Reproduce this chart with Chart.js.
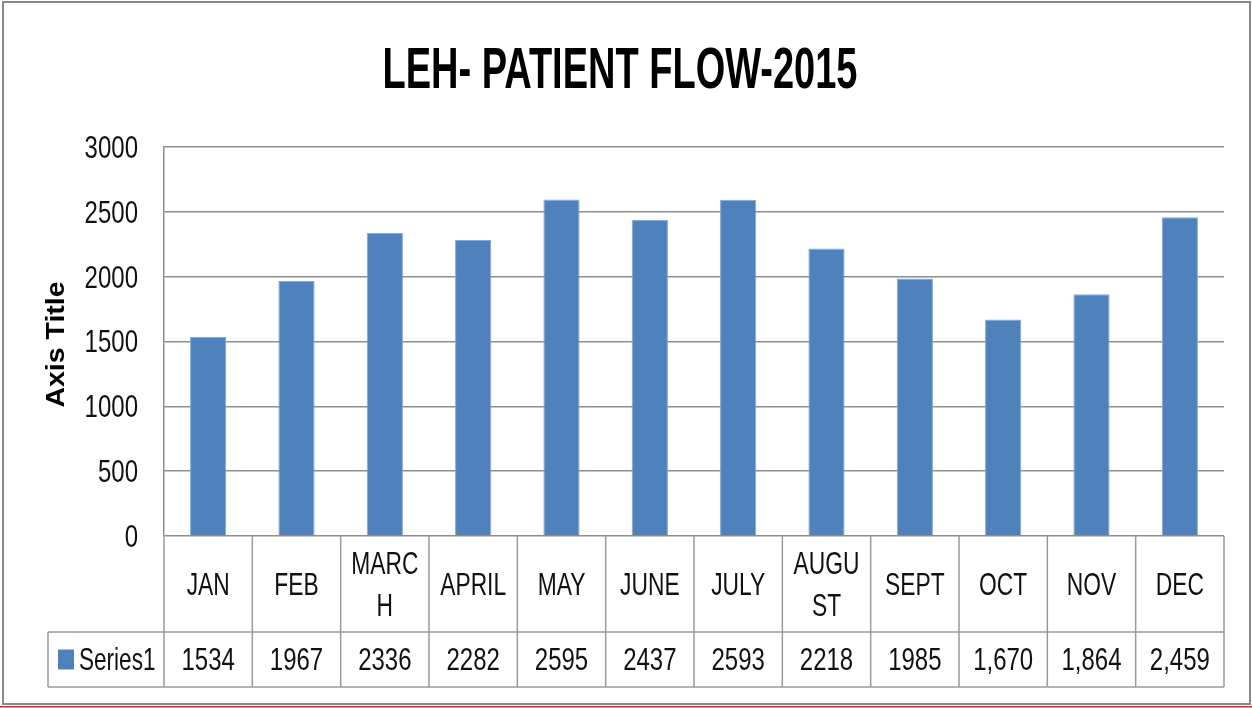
<!DOCTYPE html>
<html>
<head>
<meta charset="utf-8">
<script src="https://cdn.jsdelivr.net/npm/chart.js@4.4.1/dist/chart.umd.min.js"></script>
<style>
  html, body { margin: 0; padding: 0; background: #fff; }
  #wrap { width: 1252px; height: 708px; position: relative; }
</style>
</head>
<body>
<div id="wrap"><canvas id="chart" width="1252" height="708"></canvas></div>
<script>
// data
const chartTitle = 'LEH- PATIENT FLOW-2015';
const axisTitle = 'Axis Title';
const seriesName = 'Series1';
const categories = ['JAN', 'FEB', 'MARCH', 'APRIL', 'MAY', 'JUNE', 'JULY', 'AUGUST', 'SEPT', 'OCT', 'NOV', 'DEC'];
const patients = [1534, 1967, 2336, 2282, 2595, 2437, 2593, 2218, 1985, 1670, 1864, 2459];
const tableValues = ['1534', '1967', '2336', '2282', '2595', '2437', '2593', '2218', '1985', '1,670', '1,864', '2,459'];
const yMin = 0;
const yMax = 3000;
const yStep = 500;

const sans = '"Liberation Sans", Arial, sans-serif';
const barBlue = '#4f81bd';
const lineGray = '#8e8e8e';
const textColor = '#111';
const CAP = 0.716; // cap height of Liberation Sans, in em

// the original text is tall and narrow, so stretch it vertically
function stretchedText(ctx, text, x, baseY, sy, sx = 1) {
  ctx.save();
  ctx.translate(x, baseY);
  ctx.scale(sx, sy);
  ctx.fillText(text, 0, 0);
  ctx.restore();
}

// wraps a label by characters, like the excel data table does
function wrapLabel(ctx, text, maxW) {
  const lines = [];
  let cur = '';
  for (const ch of text) {
    if (cur && ctx.measureText(cur + ch).width > maxW) {
      lines.push(cur);
      cur = ch;
    } else {
      cur += ch;
    }
  }
  if (cur) lines.push(cur);
  return lines;
}

const textPlugin = {
  id: 'excelText',
  beforeDraw(chart) {
    const ctx = chart.ctx;
    ctx.save();
    ctx.fillStyle = '#fff';
    ctx.fillRect(0, 0, chart.width, chart.height);
    ctx.strokeStyle = '#8a8a8a';
    ctx.lineWidth = 2;
    ctx.strokeRect(3, 2, chart.width - 5, chart.height - 6);
    ctx.fillStyle = '#e0262a';
    ctx.fillRect(0, chart.height - 2, chart.width, 1.5);
    ctx.restore();
  },
  afterDraw(chart) {
    const ctx = chart.ctx;
    const xs = chart.scales.x;
    const ys = chart.scales.y;
    const area = chart.chartArea;
    const top = xs.top;
    const bottom = xs.bottom;
    const mid = top + 96;
    const legendLeft = 48;
    const colW = xs.width / categories.length;

    ctx.save();
    // chart title
    ctx.fillStyle = '#000';
    ctx.font = 'bold 38px ' + sans;
    ctx.textAlign = 'center';
    ctx.textBaseline = 'alphabetic';
    stretchedText(ctx, chartTitle, 620, 88, 1.5);

    // axis title, rotated
    ctx.font = 'bold 25px ' + sans;
    ctx.save();
    ctx.translate(64, (area.top + area.bottom) / 2 + 3);
    ctx.rotate(-Math.PI / 2);
    ctx.scale(1.14, 1);
    ctx.fillText(axisTitle, 0, 0);
    ctx.restore();

    // y tick labels from the scale
    const size = 24;
    const sy = 1.28;
    const half = size * CAP * sy / 2;
    ctx.font = size + 'px ' + sans;
    ctx.fillStyle = textColor;
    ctx.textAlign = 'right';
    ys.ticks.forEach((t) => {
      stretchedText(ctx, String(t.value), 138, ys.getPixelForValue(t.value) + half, sy);
    });

    // data table grid
    ctx.strokeStyle = '#9a9a9a';
    ctx.lineWidth = 1.5;
    const line = (x1, y1, x2, y2) => {
      ctx.beginPath();
      ctx.moveTo(x1, y1);
      ctx.lineTo(x2, y2);
      ctx.stroke();
    };
    line(legendLeft, mid, xs.right, mid);
    line(legendLeft, bottom, xs.right, bottom);
    line(legendLeft, mid, legendLeft, bottom);
    for (let i = 0; i <= categories.length; i++) {
      const x = xs.left + i * colW;
      line(x, top, x, bottom);
    }

    // data table text
    ctx.textAlign = 'center';
    const lineH = 42;
    const rowY = (mid + bottom) / 2;
    categories.forEach((c, i) => {
      const cx = xs.getPixelForValue(i);
      const lines = wrapLabel(ctx, c, colW - 12);
      const cy = (top + mid) / 2 - (lines.length - 1) * lineH / 2;
      lines.forEach((t, k) => stretchedText(ctx, t, cx, cy + k * lineH + half, sy, 0.95));
      stretchedText(ctx, tableValues[i], cx, rowY + half, sy);
    });

    ctx.fillStyle = barBlue;
    ctx.fillRect(58, rowY - 10, 16, 20);
    ctx.fillStyle = textColor;
    ctx.textAlign = 'left';
    stretchedText(ctx, seriesName, 79, rowY + half, sy, 0.94);
    ctx.restore();
  }
};

const ctx = document.getElementById('chart').getContext('2d');
new Chart(ctx, {
  type: 'bar',
  data: {
    labels: categories,
    datasets: [
      {
        label: seriesName,
        data: patients,
        backgroundColor: barBlue,
        borderColor: '#86a8d4',
        borderWidth: 1,
        barPercentage: 0.41,
        categoryPercentage: 1
      }
    ]
  },
  options: {
    responsive: false,
    animation: false,
    devicePixelRatio: 1,
    layout: {
      padding: { left: 0, right: 28, top: 147, bottom: 21 }
    },
    plugins: {
      legend: { display: false },
      tooltip: { enabled: false },
      title: { display: false }
    },
    scales: {
      x: {
        ticks: { display: false },
        grid: { display: false },
        border: { display: false },
        afterFit: (s) => { s.height = 151; }
      },
      y: {
        min: yMin,
        max: yMax,
        ticks: { stepSize: yStep, display: false },
        grid: { color: lineGray, lineWidth: 1.5, drawTicks: false },
        border: { color: lineGray, width: 1.5 },
        afterFit: (s) => { s.width = 164; }
      }
    }
  },
  plugins: [textPlugin]
});
</script>
</body>
</html>
